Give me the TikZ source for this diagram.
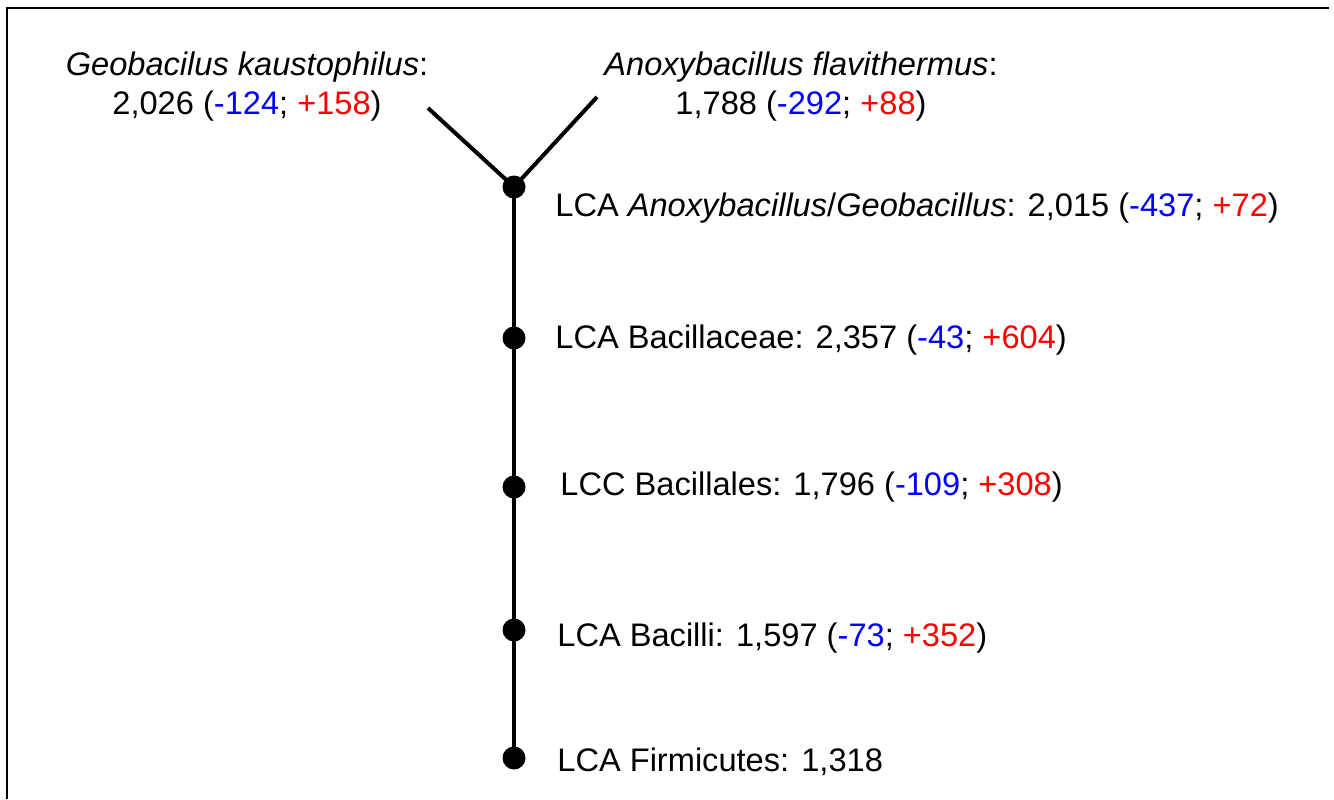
\documentclass[tikz,border=0pt]{standalone}
\usepackage{fontspec}
\setmainfont{Liberation Sans}
\usepackage{xcolor}
\usetikzlibrary{positioning}
\definecolor{perda}{RGB}{0,0,255}
\definecolor{ganho}{RGB}{255,0,0}
\newcommand{\perda}[1]{\textcolor{perda}{#1}}
\newcommand{\ganho}[1]{\textcolor{ganho}{#1}}
\tikzset{
  ponto/.style={circle, fill=black, inner sep=0pt, minimum size=11.5pt},
  ramo/.style={line width=2pt},
  rotulo/.style={anchor=base west, inner sep=0pt, font=\fontsize{16.3}{19.5}\selectfont},
  folha/.style={anchor=base, align=center, inner sep=0pt, font=\fontsize{16.3}{19.5}\selectfont},
}

\begin{document}
\begin{tikzpicture}[x=0.5pt, y=-0.5pt]
        \useasboundingbox (0,0) rectangle (1334,799);

        % moldura
        \draw[line width=1pt] (6.5,799) -- (6.5,7.5) -- (1329,7.5);

        % nos do tronco
        \node[ponto] (anogeo) at (514,187) {};
        \node[ponto] (bacillaceae) at (514,338) {};
        \node[ponto] (bacillales) at (514,487) {};
        \node[ponto] (bacilli) at (514,630) {};
        \node[ponto] (firmicutes) at (514,758) {};
        \coordinate (geo) at (428,108);
        \coordinate (ano) at (597,97);

        \draw[ramo] (firmicutes.center) -- (bacilli.center) -- (bacillales.center)
          -- (bacillaceae.center) -- (anogeo.center);
        \draw[ramo] (geo) -- (anogeo.center) -- (ano);

        % folhas
        \node[folha] (lgeo) at (247,114) {\textit{Geobacilus kaustophilus}:\\2,026 (\perda{-124}; \ganho{+158})};
        \node[folha] (lano) at (801,114) {\textit{Anoxybacillus flavithermus}:\\1,788 (\perda{-292}; \ganho{+88})};

        % rotulos dos ancestrais
        \node[rotulo] (lanogeo) at (555,216) {LCA \textit{Anoxybacillus}/\textit{Geobacillus}: 2,015 (\perda{-437}; \ganho{+72})};
        \node[rotulo] (lbacillaceae) at (555,348) {LCA Bacillaceae: 2,357 (\perda{-43}; \ganho{+604})};
        \node[rotulo] (lbacillales) at (560,495) {LCC Bacillales: 1,796 (\perda{-109}; \ganho{+308})};
        \node[rotulo] (lbacilli) at (557,646) {LCA Bacilli: 1,597 (\perda{-73}; \ganho{+352})};
        \node[rotulo] (lfirmicutes) at (557,771) {LCA Firmicutes: 1,318};
    \end{tikzpicture}
\end{document}
